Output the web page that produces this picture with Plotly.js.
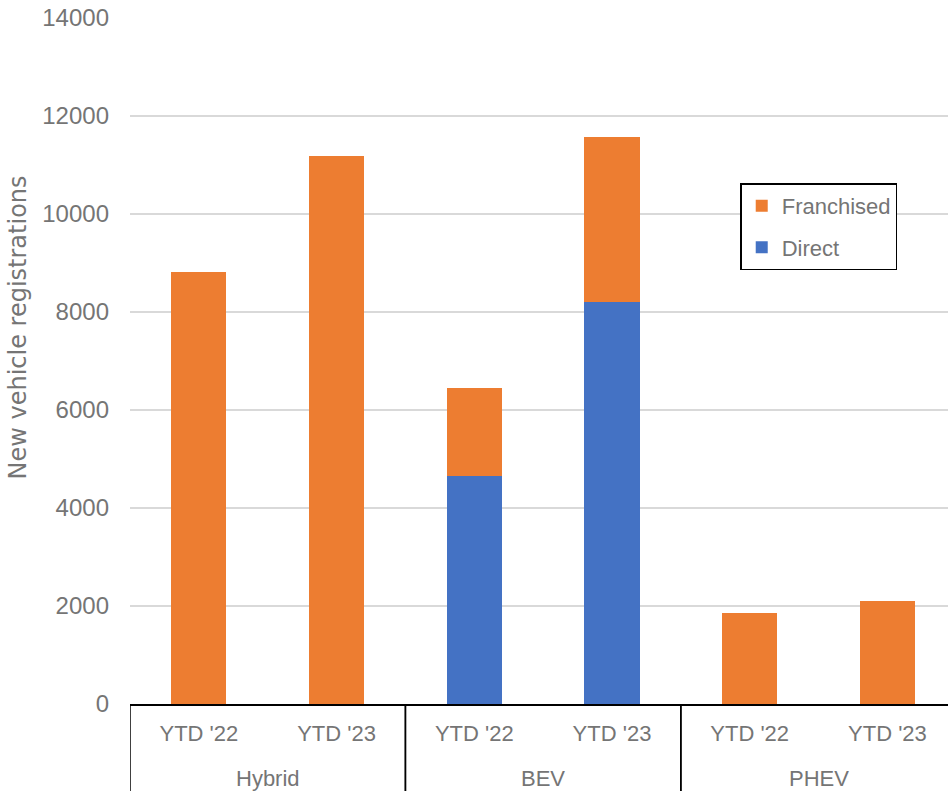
<!DOCTYPE html>
<html>
<head>
<meta charset="utf-8">
<script src="https://cdn.plot.ly/plotly-3.0.1.min.js"></script>
<style>html,body{margin:0;padding:0;background:#fff;}#chart{width:948px;height:791px;}</style>
</head>
<body>
<div id="chart"></div>
<script>
const groups = ['Hybrid', 'Hybrid', 'BEV', 'BEV', 'PHEV', 'PHEV'];
const periods = ["YTD '22", "YTD '23", "YTD '22", "YTD '23", "YTD '22", "YTD '23"];
const direct = [0, 0, 4650, 8200, 0, 0];
const franchised = [8810, 11180, 1800, 3370, 1860, 2100];
const yTicks = [0, 2000, 4000, 6000, 8000, 10000, 12000, 14000];
const yTitle = 'New vehicle registrations';

const font = '"Liberation Sans", Arial, sans-serif';
const grey = '#757575';
const idx = periods.map((_, i) => i);
const traces = [
  {type: 'bar', name: 'Direct', x: idx, y: direct, width: 0.4, legendgroup: 'd', legendrank: 2,
   marker: {color: '#4472C4'}, hoverinfo: 'y'},
  {type: 'bar', name: 'Franchised', x: idx, y: franchised, width: 0.4, legendgroup: 'f', legendrank: 1,
   marker: {color: '#ED7D31'}, hoverinfo: 'y'}
];

// group labels and dividers derived from the group array
const annotations = [];
const shapes = [];
const uniq = [...new Set(groups)];
uniq.forEach(g => {
  const ids = idx.filter(i => groups[i] === g);
  const lo = Math.min(...ids), hi = Math.max(...ids);
  annotations.push({xref: 'x', yref: 'paper', x: (lo + hi) / 2, y: -74 / 686,
    yanchor: 'middle', xanchor: 'center', showarrow: false, text: g,
    font: {family: font, size: 22, color: grey}});
  [lo - 0.5, hi + 0.5].forEach(xv => shapes.push({type: 'line', xref: 'x', yref: 'paper',
    x0: xv, x1: xv, y0: 0, y1: -100 / 686, line: {color: '#000', width: 1.5}}));
});
annotations.push({xref: 'paper', yref: 'paper', x: (17.5 - 130) / 818, y: (704 - 328) / 686,
  xanchor: 'center', yanchor: 'middle', textangle: -90, showarrow: false, text: yTitle,
  font: {family: '"DejaVu Sans", sans-serif', size: 24, color: grey}});

const layout = {
  width: 948, height: 791,
  margin: {l: 130, r: 0, t: 18, b: 87},
  paper_bgcolor: '#fff', plot_bgcolor: '#fff',
  barmode: 'stack',
  font: {family: font, color: grey, size: 22},
  showlegend: true,
  legend: {x: 0.746, y: 0.759, xanchor: 'left', yanchor: 'top',
    bordercolor: '#000', borderwidth: 1.5, bgcolor: '#fff',
    traceorder: 'grouped', font: {size: 22, color: grey},
    tracegroupgap: 10},
  xaxis: {range: [-0.5, 5.44], tickvals: idx, ticktext: periods, showgrid: false,
    zeroline: false, showline: true, linecolor: '#000', linewidth: 1.5,
    ticks: '', ticklabelstandoff: 9, tickfont: {size: 22, color: grey}},
  yaxis: {range: [0, 14000], tickvals: yTicks, tickformat: 'd', showgrid: true, gridcolor: '#d9d9d9',
    gridwidth: 1.5, zeroline: false, ticks: '', ticklabelstandoff: 20,
    tickfont: {size: 24, color: grey}},
  annotations: annotations,
  shapes: shapes
};
Plotly.newPlot('chart', traces, layout, {displayModeBar: false, staticPlot: true});
</script>
</body>
</html>
